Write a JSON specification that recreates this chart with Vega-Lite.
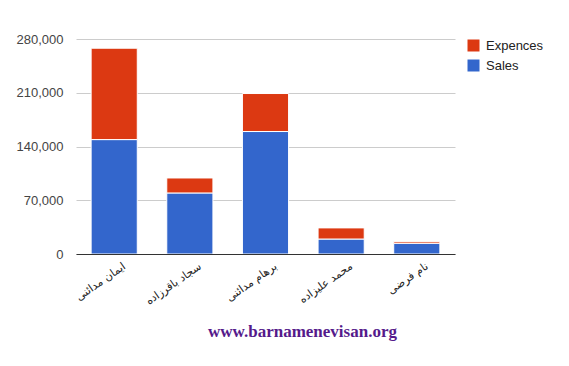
{
  "$schema": "https://vega.github.io/schema/vega-lite/v6.json",
  "autosize": "none",
  "width": 379,
  "height": 215,
  "padding": {"left": 76, "top": 39, "right": 114, "bottom": 112},
  "background": "white",
  "config": {
    "view": {"stroke": null},
    "font": "Liberation Sans",
    "axis": {"labelFont": "Liberation Sans"},
    "legend": {"labelFont": "Liberation Sans"}
  },
  "title": {
    "text": "www.barnamenevisan.org",
    "orient": "bottom",
    "anchor": "middle",
    "font": "Liberation Serif",
    "fontSize": 17,
    "fontWeight": "bold",
    "color": "#551a8b",
    "dx": 37,
    "offset": 18
  },
  "data": {
    "values": [
      {"name": "ایمان مدائنی", "series": "Sales", "value": 149000},
      {"name": "ایمان مدائنی", "series": "Expences", "value": 119000},
      {"name": "سجاد باقرزاده", "series": "Sales", "value": 79500},
      {"name": "سجاد باقرزاده", "series": "Expences", "value": 19500},
      {"name": "برهام مدائنی", "series": "Sales", "value": 159500},
      {"name": "برهام مدائنی", "series": "Expences", "value": 49500},
      {"name": "محمد علیزاده", "series": "Sales", "value": 19500},
      {"name": "محمد علیزاده", "series": "Expences", "value": 14500},
      {"name": "نام فرضی", "series": "Sales", "value": 14000},
      {"name": "نام فرضی", "series": "Expences", "value": 2000}
    ]
  },
  "mark": {"type": "bar", "stroke": "white", "strokeWidth": 1},
  "encoding": {
    "x": {
      "field": "name",
      "type": "nominal",
      "sort": null,
      "title": null,
      "scale": {"paddingInner": 0.39, "paddingOuter": 0.2},
      "axis": {
        "zindex": 1,
        "labelAngle": -35,
        "labelAlign": "right",
        "labelBaseline": "top",
        "labelFontSize": 11,
        "labelColor": "#222222",
        "labelPadding": 6,
        "labelOffset": 7,
        "ticks": false,
        "domainColor": "#333333",
        "domainWidth": 1,
        "labelFont": "DejaVu Sans"
      }
    },
    "y": {
      "field": "value",
      "type": "quantitative",
      "stack": "zero",
      "title": null,
      "scale": {"domain": [0, 280000], "nice": false},
      "axis": {
        "values": [0, 70000, 140000, 210000, 280000],
        "format": ",d",
        "domain": false,
        "ticks": false,
        "gridColor": "#cccccc",
        "labelFontSize": 13,
        "labelColor": "#444444",
        "labelPadding": 13
      }
    },
    "color": {
      "field": "series",
      "type": "nominal",
      "scale": {"domain": ["Expences", "Sales"], "range": ["#dc3912", "#3366cc"]},
      "legend": {
        "title": null,
        "orient": "right",
        "offset": 12,
        "padding": 0,
        "symbolType": "square",
        "symbolSize": 144,
        "symbolStrokeWidth": 0,
        "labelFontSize": 13,
        "labelColor": "#222222",
        "rowPadding": 6,
        "labelOffset": 6
      }
    },
    "order": {"field": "series", "sort": "descending"}
  }
}
